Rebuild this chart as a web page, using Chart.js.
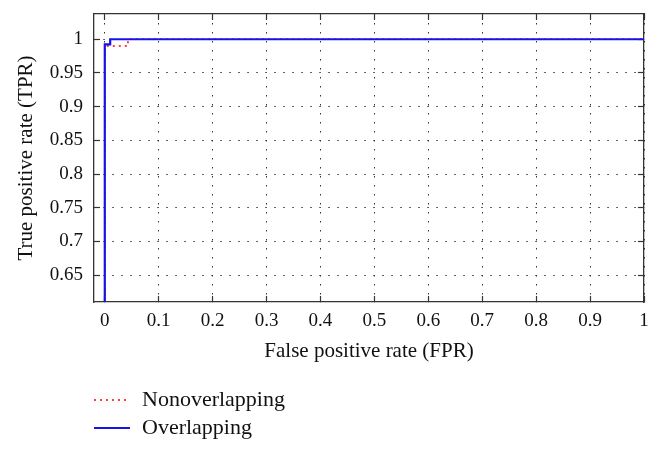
<!DOCTYPE html>
<html>
<head>
<meta charset="utf-8">
<script src="https://cdn.jsdelivr.net/npm/chart.js@4"></script>
<style>
    html, body { margin: 0; padding: 0; background: #fff; }
    #wrap { width: 661px; height: 454px; }
</style>
</head>
<body>
<div id="wrap"><canvas id="rocChart" width="661" height="454"></canvas></div>
<script>
const fprNonoverlap = [0, 0, 0.043, 0.043, 1];
const tprNonoverlap = [0.61, 0.99, 0.99, 1, 1];
const fprOverlap = [0, 0, 0.01, 0.01, 1];
const tprOverlap = [0.61, 0.9925, 0.9925, 1, 1];
const xTicks = [0, 0.1, 0.2, 0.3, 0.4, 0.5, 0.6, 0.7, 0.8, 0.9, 1];
const yTicks = [0.65, 0.7, 0.75, 0.8, 0.85, 0.9, 0.95, 1];
const seriesNames = ['Nonoverlapping', 'Overlapping'];

const FONT = "'Liberation Serif', 'DejaVu Serif', serif";

function toPoints(xs, ys) {
    return xs.map((x, i) => ({ x: x, y: ys[i] }));
}

// keep the plot box where it is, no extra room for label overhang
function noPadding(scale) {
    scale.paddingTop = 0;
    scale.paddingBottom = 0;
    scale.paddingLeft = 0;
    scale.paddingRight = 0;
}

// legend drawn below the axis title, stacked rows
const stackedLegend = {
    id: 'stackedLegend',
    afterDraw(chart) {
        const ctx = chart.ctx;
        const rows = [400, 428];
        chart.data.datasets.forEach((ds, i) => {
            const y = rows[i];
            ctx.save();
            ctx.strokeStyle = ds.borderColor;
            ctx.lineWidth = ds.borderWidth;
            ctx.setLineDash(ds.borderDash || []);
            ctx.beginPath();
            ctx.moveTo(94, y);
            ctx.lineTo(130, y);
            ctx.stroke();
            ctx.setLineDash([]);
            ctx.fillStyle = '#111';
            ctx.font = '22px ' + FONT;
            ctx.textBaseline = 'middle';
            ctx.textAlign = 'left';
            ctx.fillText(ds.label, 142, y);
            ctx.restore();
        });
    },
};

const ctx = document.getElementById('rocChart');

const gridDots = { display: true, color: '#333', width: 1.3, dash: [1.5, 7.5] };

new Chart(ctx, {
    type: 'line',
    data: {
        datasets: [
            {
                label: seriesNames[0],
                data: toPoints(fprNonoverlap, tprNonoverlap),
                borderColor: '#ff0000',
                borderWidth: 1.5,
                borderDash: [2, 4],
                pointRadius: 0,
                tension: 0,
                fill: false,
                order: 1,
            },
            {
                label: seriesNames[1],
                data: toPoints(fprOverlap, tprOverlap),
                borderColor: '#1414e6',
                borderWidth: 2.2,
                pointRadius: 0,
                tension: 0,
                fill: false,
                order: 0,
            },
        ],
    },
    options: {
        responsive: false,
        animation: false,
        layout: {
            padding: { top: 14, right: 17, bottom: 88, left: 0 },
        },
        plugins: {
            legend: { display: false },
            tooltip: { enabled: false },
        },
        scales: {
            x: {
                type: 'linear',
                position: 'bottom',
                min: -0.02,
                max: 1,
                afterBuildTicks: (scale) => {
                    scale.ticks = xTicks.map((v) => ({ value: v }));
                },
                afterFit: (scale) => {
                    scale.height = 64;
                    noPadding(scale);
                },
                grid: {
                    color: '#333',
                    lineWidth: 1,
                    tickLength: -6,
                    tickColor: '#333',
                    tickWidth: 1.2,
                },
                border: gridDots,
                ticks: {
                    padding: 14,
                    color: '#111',
                    font: { family: FONT, size: 19 },
                    maxRotation: 0,
                    callback: (value) => String(value),
                },
                title: {
                    display: true,
                    text: 'False positive rate (FPR)',
                    color: '#111',
                    font: { family: FONT, size: 21 },
                    padding: { top: 0, bottom: 2 },
                },
            },
            y: {
                type: 'linear',
                position: 'left',
                min: 0.61,
                max: 1.0375,
                afterBuildTicks: (scale) => {
                    scale.ticks = yTicks.map((v) => ({ value: v }));
                },
                afterFit: (scale) => {
                    scale.width = 94;
                    noPadding(scale);
                },
                grid: {
                    color: '#333',
                    lineWidth: 1,
                    tickLength: -6,
                    tickColor: '#333',
                    tickWidth: 1.2,
                },
                border: gridDots,
                ticks: {
                    padding: 17,
                    color: '#111',
                    font: { family: FONT, size: 19 },
                    callback: (value) => String(value),
                },
                title: {
                    display: true,
                    text: 'True positive rate (TPR)',
                    color: '#111',
                    font: { family: FONT, size: 21 },
                    padding: { top: 14, bottom: 0 },
                },
            },
            x2: {
                type: 'linear',
                position: 'top',
                min: -0.02,
                max: 1,
                afterBuildTicks: (scale) => {
                    scale.ticks = xTicks.map((v) => ({ value: v }));
                },
                afterFit: (scale) => {
                    scale.height = 0;
                    noPadding(scale);
                },
                grid: {
                    drawOnChartArea: false,
                    tickLength: -6,
                    tickColor: '#333',
                    tickWidth: 1.2,
                },
                border: { display: true, color: '#333', width: 1.3 },
                ticks: { display: false },
            },
            y2: {
                type: 'linear',
                position: 'right',
                min: 0.61,
                max: 1.0375,
                afterBuildTicks: (scale) => {
                    scale.ticks = yTicks.map((v) => ({ value: v }));
                },
                afterFit: (scale) => {
                    scale.width = 0;
                    noPadding(scale);
                },
                grid: {
                    drawOnChartArea: false,
                    tickLength: -6,
                    tickColor: '#333',
                    tickWidth: 1.2,
                },
                border: { display: true, color: '#333', width: 1.3 },
                ticks: { display: false },
            },
        },
    },
    plugins: [stackedLegend],
});
</script>
</body>
</html>
